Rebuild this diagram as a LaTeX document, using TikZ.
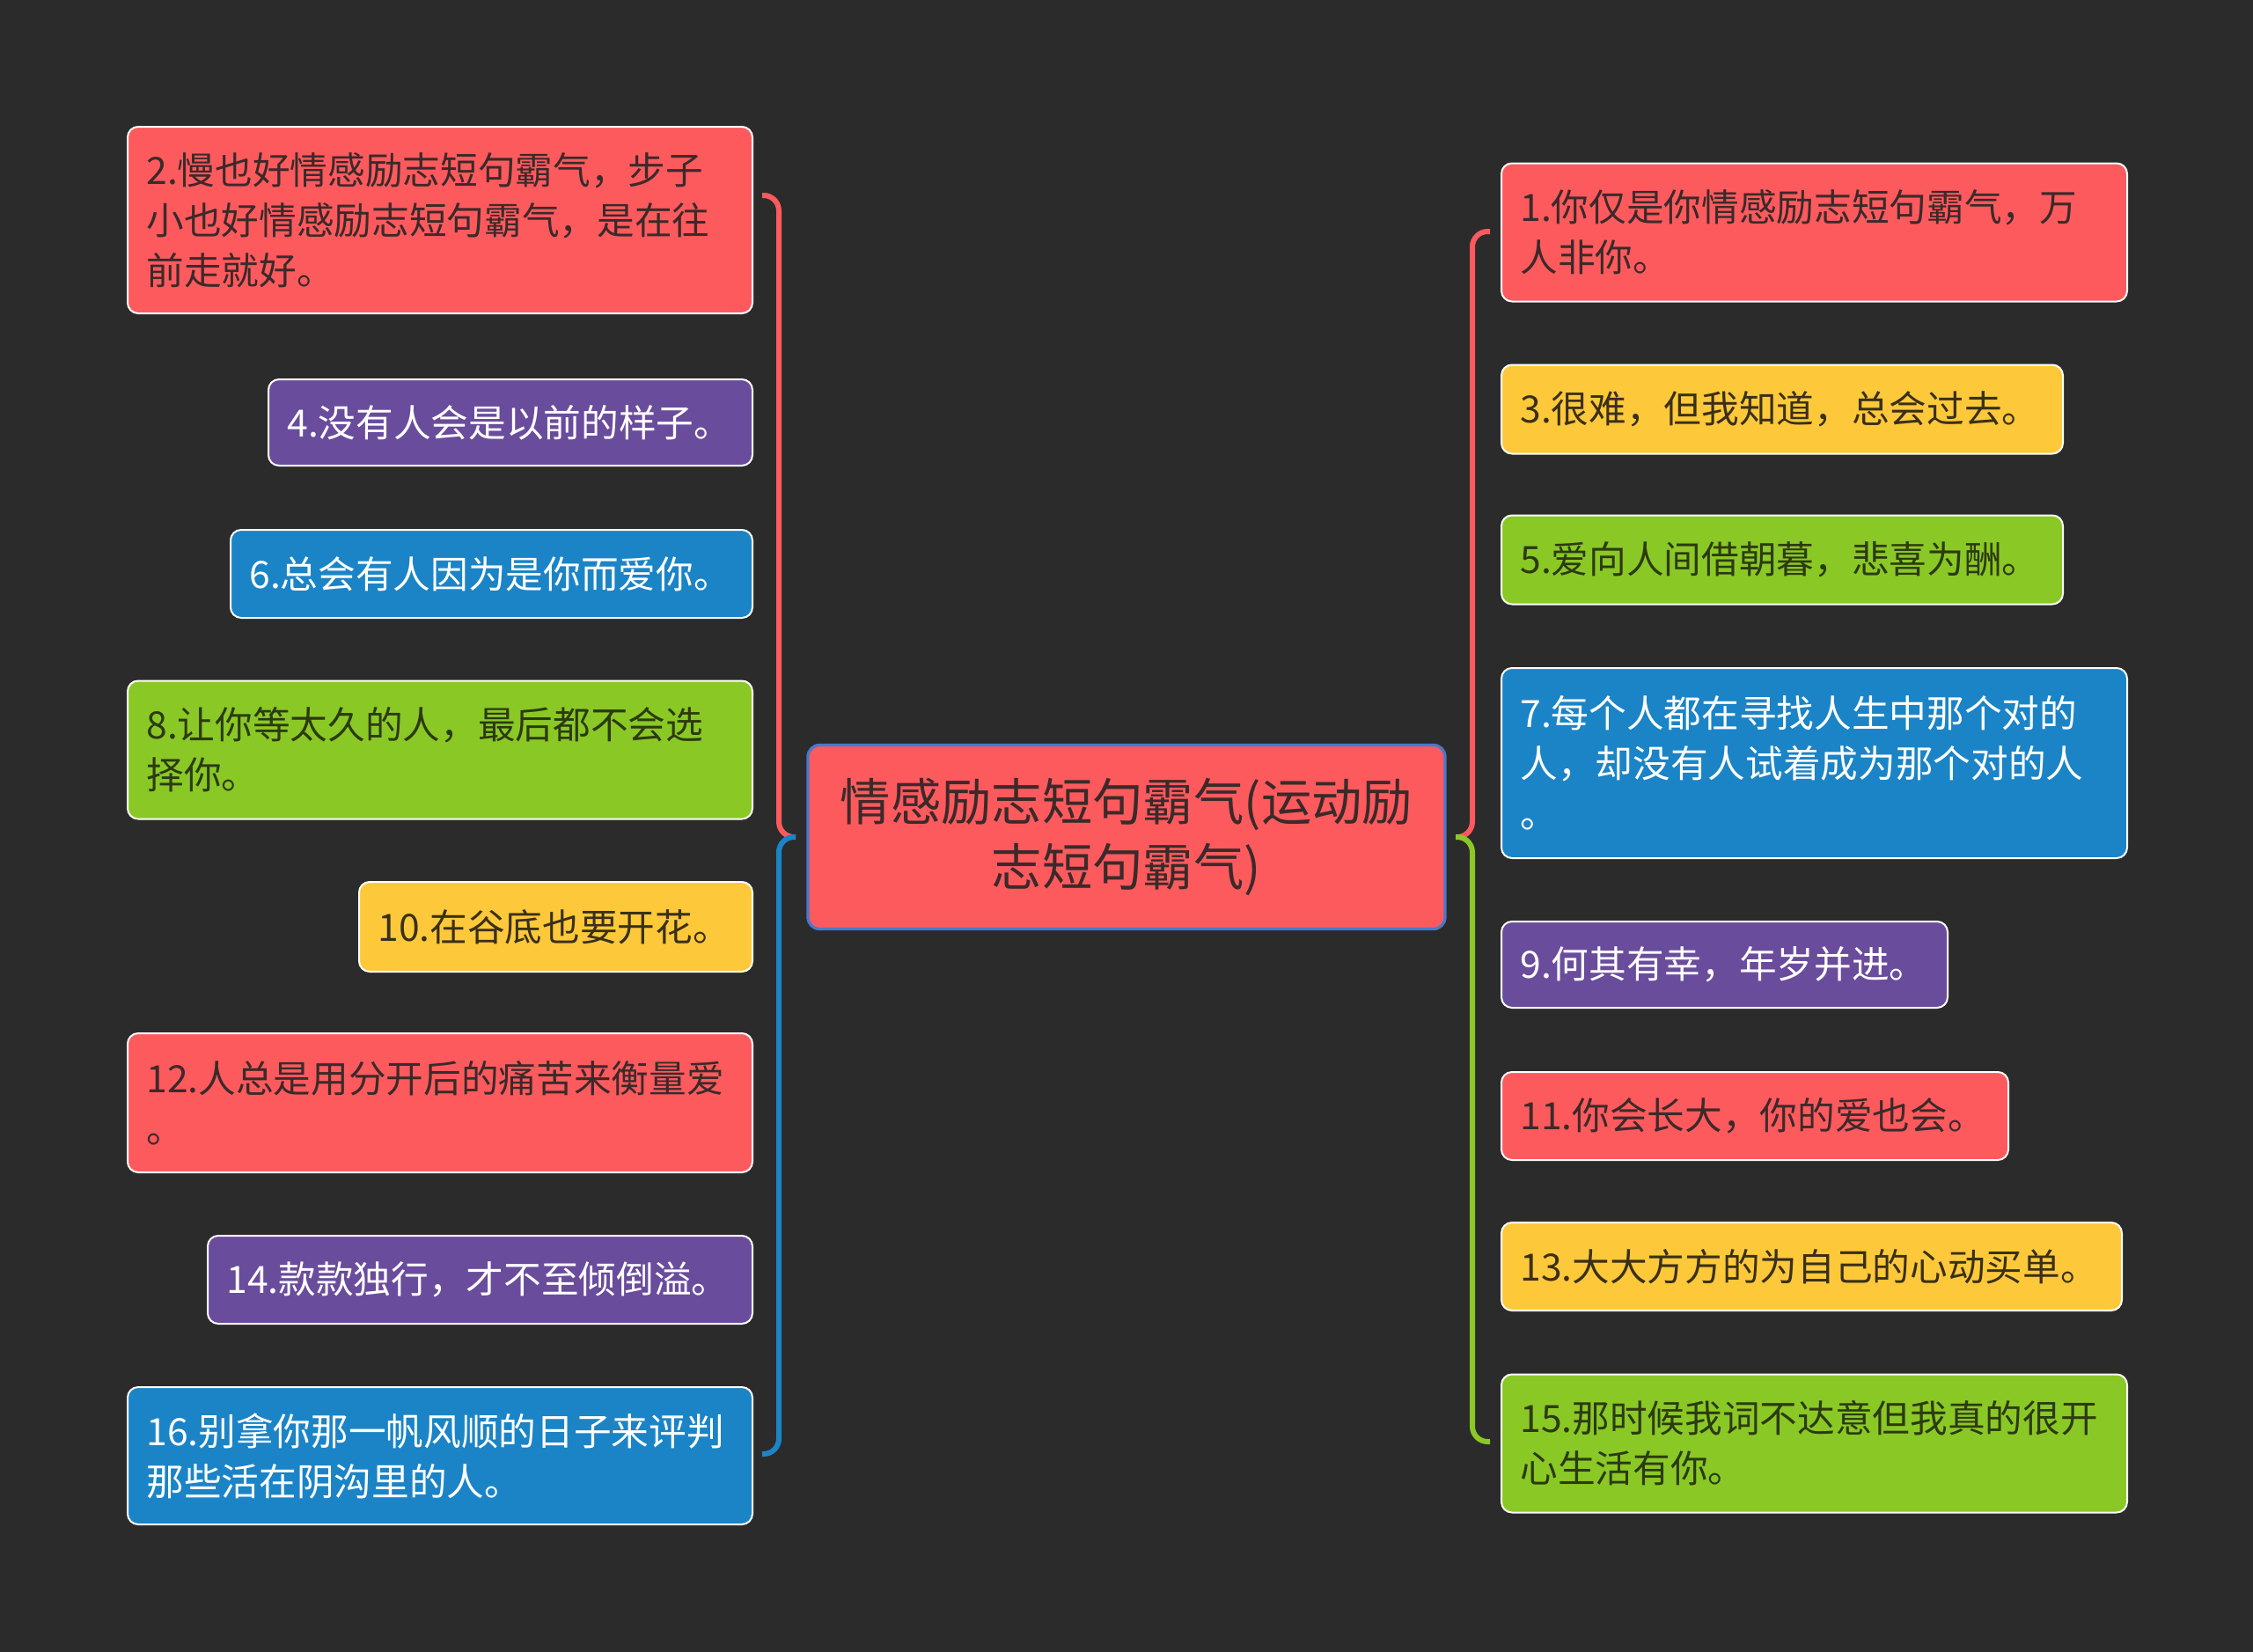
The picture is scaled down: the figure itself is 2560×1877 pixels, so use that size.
\documentclass[tikz,border=0pt]{standalone}
\usepackage{fontspec}
\setmainfont{Noto Sans CJK SC}
\definecolor{bg}{HTML}{2B2B2B}
\definecolor{cred}{HTML}{FD5A5E}
\definecolor{cyellow}{HTML}{FDC93A}
\definecolor{cgreen}{HTML}{8AC826}
\definecolor{cblue}{HTML}{1B84C7}
\definecolor{cpurple}{HTML}{6A4C9C}
\definecolor{rootborder}{HTML}{4A78CC}
\definecolor{tdark}{HTML}{3B2A2A}
\definecolor{tyel}{HTML}{3A3018}
\definecolor{tgrn}{HTML}{2C3A10}
\begin{document}
\begin{tikzpicture}[x=0.75pt,y=-0.75pt,
  leaf/.style={draw=white, line width=1.5pt, rounded corners=9pt, anchor=west,
    inner xsep=16pt, inner ysep=4pt, align=left,
    font=\fontsize{32pt}{42.75pt}\selectfont},
  redbox/.style={leaf, fill=cred, text=tdark},
  yelbox/.style={leaf, fill=cyellow, text=tyel},
  grnbox/.style={leaf, fill=cgreen, text=tgrn},
  blubox/.style={leaf, fill=cblue, text=white},
  purbox/.style={leaf, fill=cpurple, text=white},
  brace/.style={line width=4.5pt, rounded corners=13pt}]
\path[fill=bg] (0,0) rectangle (2560,1877);

% root
\node[draw=rootborder, line width=2.5pt, fill=cred, rounded corners=10pt,
  minimum width=543pt, minimum height=156.75pt, align=center, text=tdark,
  font=\fontsize{43pt}{55pt}\selectfont] (root) at (1280,951)
  {情感励志短句霸气(运动励\\志短句霸气)};

% left side
\node[redbox, text width=500.5pt, minimum height=159pt] (n2) at (144,250)
  {2.慢也好情感励志短句霸气，步子\\小也好情感励志短句霸气，是在往\\前走就好。};
\node[purbox, text width=380.5pt, minimum height=73.5pt] (n4) at (304,480)
  {4.没有人会是以前的样子。};
\node[blubox, text width=412.75pt, minimum height=75pt] (n6) at (261,652)
  {6.总会有人因为是你而爱你。};
\node[grnbox, text width=500.5pt, minimum height=117.75pt] (n8) at (144,852)
  {8.让你等太久的人，最后都不会选\\择你。};
\node[yelbox, text width=303.25pt, minimum height=76.5pt] (n10) at (407,1053)
  {10.在谷底也要开花。};
\node[redbox, text width=500.5pt, minimum height=118.5pt] (n12) at (144,1253)
  {12.人总是用分开后的痛苦来衡量爱\\。};
\node[purbox, text width=432.25pt, minimum height=75pt] (n14) at (235,1454)
  {14.款款独行，才不至倾倒溢。};
\node[blubox, text width=500.5pt, minimum height=117pt] (n16) at (144,1654)
  {16.别拿你那一帆风顺的日子来评判\\那些活在阴沟里的人。};

% right side
\node[redbox, text width=501.25pt, minimum height=117.75pt] (n1) at (1705,264)
  {1.你仅是你情感励志短句霸气，万\\人非你。};
\node[yelbox, text width=446.5pt, minimum height=75.75pt] (n3) at (1705,465)
  {3.很难，但我知道，总会过去。};
\node[grnbox, text width=446.5pt, minimum height=75.75pt] (n5) at (1705,636)
  {5.爱向人间借朝暮，悲喜为酬。};
\node[blubox, text width=501.25pt, minimum height=162pt] (n7) at (1705,867)
  {7.每个人都在寻找人生中那个对的\\人，却没有人试着成为那个对的人\\。};
\node[purbox, text width=348.25pt, minimum height=73.5pt] (n9) at (1705,1096)
  {9.何其有幸，年岁并进。};
\node[redbox, text width=400pt, minimum height=75pt] (n11) at (1705,1268)
  {11.你会长大，你的爱也会。};
\node[yelbox, text width=496.75pt, minimum height=75pt] (n13) at (1705,1439)
  {13.大大方方的为自己的心动买单。};
\node[grnbox, text width=501.25pt, minimum height=117.75pt] (n15) at (1705,1640)
  {15.那时候我词不达意但我真的很开\\心生活有你。};

% brackets
\coordinate (LJ) at (904,951);
\coordinate (LV) at (885,0);
\coordinate (LT) at (866,222);
\coordinate (LB) at (866,1652);
\coordinate (RJ) at (1654,951);
\coordinate (RV) at (1673,0);
\coordinate (RT) at (1693,263);
\coordinate (RB) at (1693,1638);
\draw[brace, cred] (LJ) -| (LV |- LT) -- (LT);
\draw[brace, cblue] (LJ) -| (LV |- LB) -- (LB);
\draw[brace, cred] (RJ) -| (RV |- RT) -- (RT);
\draw[brace, cgreen] (RJ) -| (RV |- RB) -- (RB);
\end{tikzpicture}
\end{document}
